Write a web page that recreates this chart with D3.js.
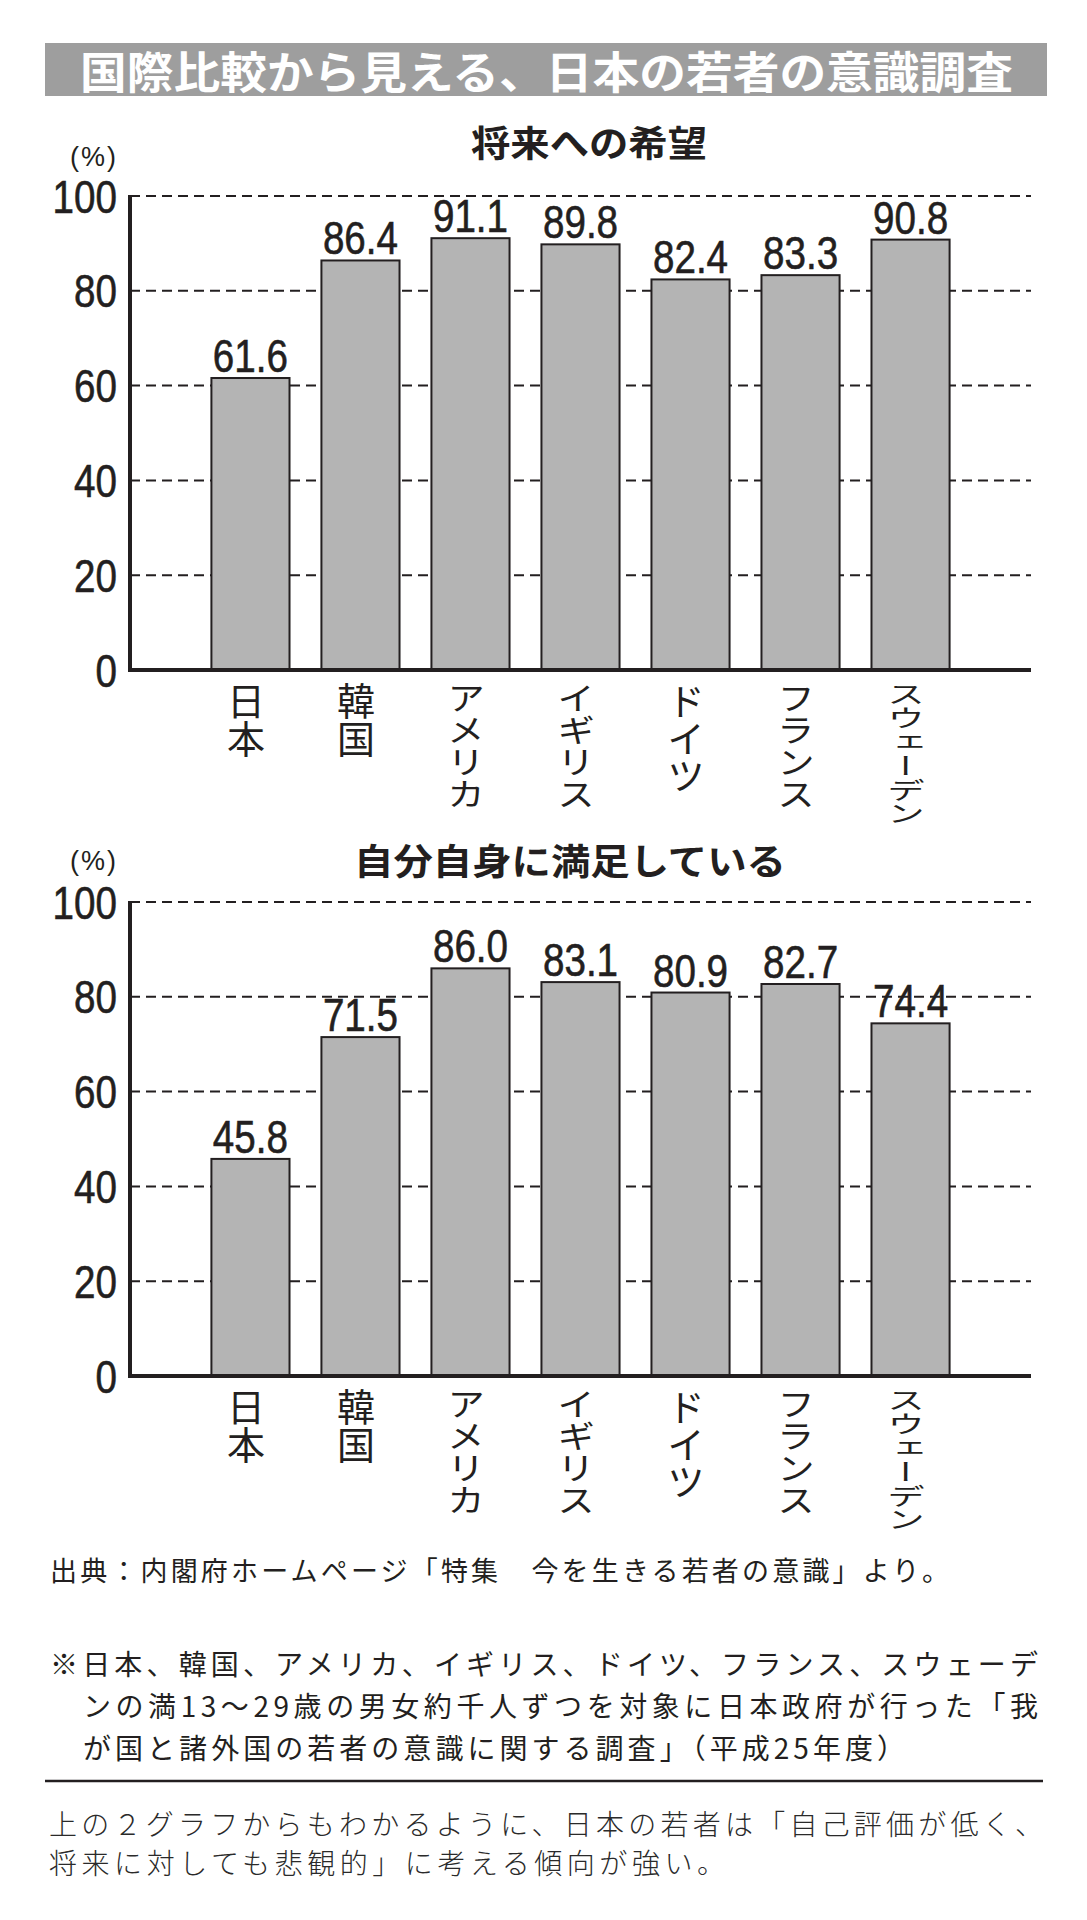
<!DOCTYPE html>
<html>
<head>
<meta charset="utf-8">
<script src="https://cdn.jsdelivr.net/npm/d3@7"></script>
<style>
  html, body { margin: 0; padding: 0; background: #fff; }
  svg { display: block; }
</style>
</head>
<body>
<div id="chart"></div>
<script>
// ---------------- data ----------------
const mainTitle = "国際比較から見える、日本の若者の意識調査";
const categories = ["日本", "韓国", "アメリカ", "イギリス", "ドイツ", "フランス", "スウェーデン"];
const hopeValues = [61.6, 86.4, 91.1, 89.8, 82.4, 83.3, 90.8];
const satisfiedValues = [45.8, 71.5, 86.0, 83.1, 80.9, 82.7, 74.4];
const chartTitles = ["将来への希望", "自分自身に満足している"];
const yTicks = [0, 20, 40, 60, 80, 100];
const unitLabel = "(%)";
const sourceText = "出典：内閣府ホームページ「特集　今を生きる若者の意識」より。";
const noteLines = [
  "※日本、韓国、アメリカ、イギリス、ドイツ、フランス、スウェーデ",
  "ンの満13～29歳の男女約千人ずつを対象に日本政府が行った「我",
  "が国と諸外国の若者の意識に関する調査」（平成25年度）"
];
const commentLines = [
  "上の２グラフからもわかるように、日本の若者は「自己評価が低く、",
  "将来に対しても悲観的」に考える傾向が強い。"
];

// ---------------- layout ----------------
const W = 1087, H = 1920;
const INK = "#231f20";
const CJK = "'Noto Sans CJK JP', 'Noto Sans CJK SC', sans-serif";
const NUM = "'Liberation Sans', Arial, sans-serif";
const NUM_SIZE = 46, NUM_SX = 0.84;

const svg = d3.select("#chart").append("svg")
  .attr("width", W).attr("height", H)
  .attr("viewBox", `0 0 ${W} ${H}`);
svg.append("rect").attr("width", W).attr("height", H).attr("fill", "#fff");

// Title banner
svg.append("rect").attr("x", 45).attr("y", 43).attr("width", 1002).attr("height", 53)
  .attr("fill", "#9e9e9e");
svg.append("text")
  .attr("x", 80).attr("y", 70)
  .attr("dominant-baseline", "central")
  .attr("textLength", 933).attr("lengthAdjust", "spacingAndGlyphs")
  .attr("font-family", CJK).attr("font-weight", 700).attr("font-size", 44)
  .attr("fill", "#fff")
  .text(mainTitle);

const charts = [
  { values: hopeValues, title: chartTitles[0], top: 196, bottom: 670, titleX: 589, titleY: 141, titleW: 236, unitY: 157 },
  { values: satisfiedValues, title: chartTitles[1], top: 902, bottom: 1376, titleX: 570, titleY: 859, titleW: 432, unitY: 861 }
];

const x = d3.scaleBand().domain(categories).range([130, 1031]).paddingInner(0.29).paddingOuter(0.74);

// condensed number text helper
function numText(sel, anchor) {
  return sel.append("text")
    .attr("x", 0).attr("y", 0)
    .attr("text-anchor", anchor)
    .attr("font-family", NUM).attr("font-size", NUM_SIZE)
    .attr("fill", INK)
    .attr("stroke", INK).attr("stroke-width", 0.6);
}

charts.forEach(cfg => {
  const g = svg.append("g");
  const y = d3.scaleLinear().domain([0, 100]).range([cfg.bottom, cfg.top]);

  // subtitle
  g.append("text")
    .attr("x", cfg.titleX - cfg.titleW / 2).attr("y", cfg.titleY)
    .attr("dominant-baseline", "central")
    .attr("textLength", cfg.titleW).attr("lengthAdjust", "spacingAndGlyphs")
    .attr("font-family", CJK).attr("font-weight", 700).attr("font-size", 36)
    .attr("fill", INK)
    .text(cfg.title);

  // unit
  g.append("text")
    .attr("x", 118).attr("y", cfg.unitY)
    .attr("dominant-baseline", "central").attr("text-anchor", "end")
    .attr("font-family", "'Liberation Sans', Arial, sans-serif").attr("font-size", 27)
    .attr("letter-spacing", 2)
    .attr("fill", INK)
    .text(unitLabel);

  // dashed gridlines
  g.append("g").selectAll("line")
    .data(yTicks.filter(t => t > 0))
    .join("line")
    .attr("x1", 130).attr("x2", 1031)
    .attr("y1", d => y(d)).attr("y2", d => y(d))
    .attr("stroke", INK).attr("stroke-width", 2)
    .attr("stroke-dasharray", "10,6");

  // y tick labels
  g.append("g").selectAll("g")
    .data(yTicks)
    .join("g")
    .attr("transform", d => `translate(117,${y(d) + NUM_SIZE * 0.36}) scale(${NUM_SX},1)`)
    .each(function (d) { numText(d3.select(this), "end").text(d); });

  // bars
  g.append("g").selectAll("rect")
    .data(cfg.values)
    .join("rect")
    .attr("x", (d, i) => x(categories[i]))
    .attr("y", d => y(d))
    .attr("width", x.bandwidth())
    .attr("height", d => y(0) - y(d))
    .attr("fill", "#b4b4b4")
    .attr("stroke", INK).attr("stroke-width", 2);

  // value labels
  g.append("g").selectAll("g")
    .data(cfg.values)
    .join("g")
    .attr("transform", (d, i) => `translate(${x(categories[i]) + x.bandwidth() / 2},${y(d) - 6}) scale(${NUM_SX},1)`)
    .each(function (d) { numText(d3.select(this), "middle").text(d3.format(".1f")(d)); });

  // axes lines
  g.append("line").attr("x1", 130).attr("x2", 130)
    .attr("y1", y(100) - 1).attr("y2", y(0) + 2)
    .attr("stroke", INK).attr("stroke-width", 4);
  g.append("line").attr("x1", 128).attr("x2", 1031)
    .attr("y1", y(0)).attr("y2", y(0))
    .attr("stroke", INK).attr("stroke-width", 4);

  // vertical category labels
  const labTop = y(0) + 12;
  categories.forEach(c => {
    const chars = Array.from(c);
    const n = chars.length;
    const L = Math.min(37.5 * n, 95 + 8 * n);
    const adv = L / n;
    const k = Math.min(1, adv / 37.5);
    const cx = x(c) + x.bandwidth() / 2 - 4.5;
    chars.forEach((ch, i) => {
      g.append("g")
        .attr("transform", `translate(${cx},${labTop + i * adv}) scale(1,${k})`)
        .append("text")
        .attr("x", 0).attr("y", 0)
        .style("writing-mode", "vertical-rl")
        .attr("font-family", CJK).attr("font-size", 38)
        .attr("fill", INK)
        .text(ch);
    });
  });
});

// Source & notes
const bodyText = (str, x0, yc, len, size, color, weight) =>
  svg.append("text")
    .attr("x", x0).attr("y", yc)
    .attr("dominant-baseline", "central")
    .attr("textLength", len).attr("lengthAdjust", "spacing")
    .attr("font-family", CJK).attr("font-size", size).attr("font-weight", weight || 400)
    .attr("fill", color)
    .text(str);

bodyText(sourceText, 50, 1569, 899, 27, INK);
bodyText(noteLines[0], 50, 1663, 988, 28, INK);
bodyText(noteLines[1], 83, 1705, 955, 28, INK);
bodyText(noteLines[2], 83, 1747, 822, 28, INK);

svg.append("line").attr("x1", 45).attr("x2", 1043).attr("y1", 1781).attr("y2", 1781)
  .attr("stroke", INK).attr("stroke-width", 2.5);

bodyText(commentLines[0], 49, 1823, 994, 28, "#2a2a2a", 300);
bodyText(commentLines[1], 49, 1862, 676, 28, "#2a2a2a", 300);
</script>
</body>
</html>
